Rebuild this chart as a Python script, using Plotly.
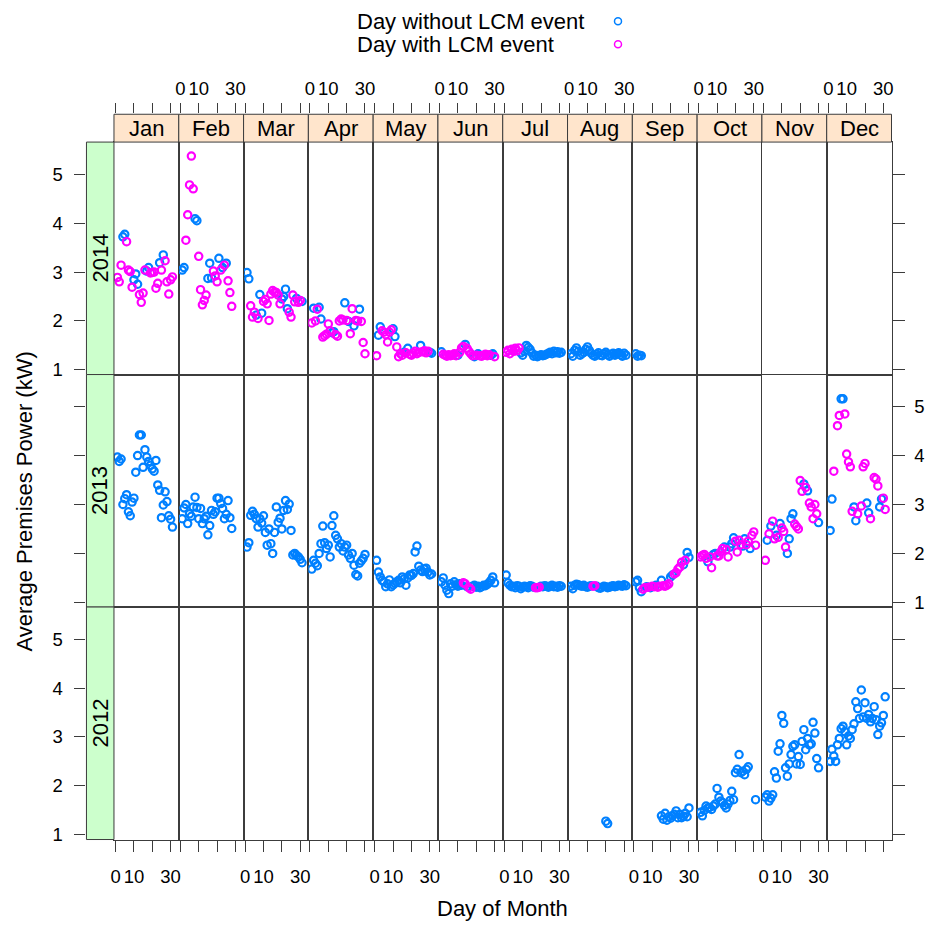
import plotly.graph_objects as go

# ---------------------------------------------------------------- data
MONTHS = ["Jan", "Feb", "Mar", "Apr", "May", "Jun",
          "Jul", "Aug", "Sep", "Oct", "Nov", "Dec"]
YEARS = [2014, 2013, 2012]          # panel rows, top to bottom
DAY_TICKS = [0, 10, 20, 30]
DAY_TICK_TEXT = ["0", "10", "", "30"]
KW_TICKS = [1, 2, 3, 4, 5]

# Daily average premises power (kW); list i starts at first_day[i], None = no reading
kw_2014 = [
    [2.89, 2.80, 3.14, 3.72, 3.77, 3.62, 3.04, 3.01, 2.69, 2.84, 2.96, 2.75, 2.54, 2.38, 2.57, 3.04,
     3.02, 3.09, 2.98, 2.99, 3.00, 2.67, 2.77, 3.19, 3.04, 3.35, 3.23, 2.80, 2.55, 2.84, 2.90],
    [3.04, 3.09, 3.65, 4.17, 4.78, 5.37, 4.70, 4.09, 4.05, 3.32, 2.64, 2.33, 2.42, 2.53, 2.87, 3.18,
     2.88, 3.02, 2.92, 2.80, 3.28, 3.04, 3.09, 3.14, 3.18, 2.82, 2.58, 2.30],
    [2.99, 2.86, 2.31, 2.08, 2.18, 2.12, 2.05, 2.54, 2.16, 2.40, 2.44, 2.35, 2.01, 2.55, 2.62, 2.59,
     2.58, 2.53, 2.35, 2.45, 2.50, 2.65, 2.25, 2.18, 2.08, 2.53, 2.39, 2.46, 2.38, 2.42, 2.40],
    [1.96, 2.26, 2.00, 2.24, 2.28, 2.04, 1.67, 1.70, 1.73, 1.94, 1.80, 1.76, 1.78, 1.72, 1.69, 2.00,
     2.04, 2.02, 2.37, 2.01, 1.99, 1.74, 2.25, 1.90, 2.01, 2.00, 2.24, 1.99, 1.56, 1.33],
    [1.29, 1.71, 1.88, 1.80, 1.77, 1.72, 1.57, 1.77, 1.82, 1.84, 1.68, 1.47, 1.27, 1.33, 1.30, 1.36,
     1.35, 1.44, 1.32, 1.30, 1.34, 1.38, 1.33, 1.36, 1.50, 1.37, 1.39, 1.35, 1.38, 1.36, 1.34],
    [1.37, 1.32, 1.30, 1.28, 1.31, 1.29, 1.30, 1.33, 1.29, 1.30, 1.36, 1.45, 1.48, 1.52, 1.44, 1.38,
     1.33, 1.29, 1.27, 1.30, 1.33, 1.29, 1.28, 1.30, 1.32, 1.29, 1.31, 1.30, 1.33, 1.27],
    [1.36, 1.40, 1.33, 1.42, 1.38, 1.44, 1.39, 1.45, 1.35, 1.30, 1.38, 1.50, 1.46, 1.42, 1.35, 1.28,
     1.30, 1.27, 1.29, 1.31, 1.29, 1.30, 1.32, 1.34, 1.36, 1.33, 1.38, 1.35, 1.37, 1.34, 1.36],
    [1.33, 1.28, 1.40, 1.45, 1.38, 1.30, 1.33, 1.36, 1.42, 1.47, 1.40, 1.34, 1.30, 1.28, 1.32, 1.35,
     1.30, 1.29, 1.33, 1.36, 1.31, 1.28, 1.32, 1.34, 1.30, 1.33, 1.35, 1.31, 1.28, 1.34, 1.30],
    [1.33, 1.28, 1.30, 1.29],
    None, None, None,
]
first_day_2014 = [1, 1, 1, 1, 1, 1, 1, 1, 1, None, None, None]
lcm_2014 = [
    [1, 2, 3, 6, 7, 8, 9, 13, 14, 15, 16, 19, 20, 21, 22, 23, 25, 27, 28, 29, 30, 31],
    [3, 4, 5, 6, 7, 10, 11, 12, 13, 14, 18, 19, 20, 22, 24, 26, 27, 28],
    [3, 4, 5, 7, 10, 11, 12, 13, 14, 15, 16, 17, 18, 19, 24, 25, 26, 27, 29, 30],
    [1, 3, 4, 7, 8, 9, 10, 11, 14, 15, 16, 17, 18, 20, 22, 23, 25, 26, 28, 29, 30],
    [1, 4, 5, 6, 7, 8, 9, 12, 13, 14, 15, 17, 19, 20, 21, 22, 23, 24, 26, 27, 28, 29],
    [2, 3, 4, 5, 6, 7, 8, 9, 11, 12, 13, 15, 16, 17, 18, 20, 22, 23, 24, 25, 26, 27, 30],
    [1, 2, 3, 4, 5, 6, 7, 8],
    [], [], [], [], [],
]

kw_2013 = [
    [3.97, 3.88, 3.93, 3.00, 3.12, 3.20, 2.85, 2.77, 3.05, 3.13, 3.66, 4.00, 4.42, 4.42, 3.76, 4.12,
     3.97, 3.88, 3.80, 3.73, 3.68, 3.90, 3.40, 3.29, 2.73, 2.99, 3.26, 3.06, 2.77, 2.70, 2.54],
    [2.71, 2.93, 3.00, 2.61, 2.81, 2.76, 2.95, 3.15, 2.94, 2.71, 2.92, 2.61, 2.71, 2.76, 2.38, 2.57,
     2.88, 2.80, 2.85, 3.13, 3.13, 3.02, 2.92, 2.71, 2.80, 3.08, 2.73, 2.51],
    [2.13, 2.22, 2.78, 2.86, 2.80, 2.71, 2.54, 2.71, 2.62, 2.77, 2.43, 2.17, 2.50, 2.20, 2.00, 2.43,
     2.95, 2.64, 2.72, 2.50, 2.88, 3.08, 2.90, 3.01, 2.47, 1.97, 2.00, 1.96, 1.93, 1.88, 1.81],
    [1.68, 1.86, 1.80, 1.75, 2.00, 2.20, 2.56, 2.22, 2.10, 2.17, 1.93, 2.57, 2.77, 2.37, 2.30, 2.13,
     2.20, 2.05, 2.13, 2.17, 1.97, 1.90, 2.00, 1.76, 1.57, 1.54, 1.80, 1.85, 1.90, 1.98],
    [1.86, 1.62, 1.52, 1.45, 1.42, 1.32, 1.38, 1.46, 1.32, 1.36, 1.39, 1.42, 1.45, 1.40, 1.52, 1.48,
     1.35, 1.50, 1.56, 1.55, 1.59, 2.03, 2.15, 1.74, 1.66, 1.63, 1.68, 1.70, 1.62, 1.56, 1.58],
    [1.42, 1.50, 1.35, 1.25, 1.18, 1.38, 1.33, 1.42, 1.36, 1.33, 1.38, 1.35, 1.40, 1.38, 1.32, 1.30,
     1.27, 1.33, 1.35, 1.31, 1.33, 1.30, 1.32, 1.35, 1.34, 1.37, 1.40, 1.45, 1.52, 1.40],
    [1.56, 1.40, 1.35, 1.32, 1.33, 1.30, 1.34, 1.33, 1.28, 1.31, 1.33, 1.32, 1.30, 1.34, 1.33, 1.31,
     1.30, 1.30, 1.31, 1.33, 1.32, 1.34, 1.33, 1.31, 1.33, 1.35, 1.32, 1.33, 1.31, 1.34, 1.33],
    [1.33, 1.28, 1.35, 1.37, 1.36, 1.34, 1.33, 1.35, 1.32, 1.31, 1.33, 1.34, 1.33, 1.34, 1.33, 1.30,
     1.29, 1.31, 1.33, 1.32, 1.30, 1.31, 1.33, 1.34, 1.32, 1.33, 1.35, 1.34, 1.33, 1.36, 1.34],
    [1.42, 1.45, 1.30, 1.22, 1.27, 1.30, 1.32, 1.31, 1.30, 1.33, 1.32, 1.35, 1.31, 1.33, 1.45, 1.34,
     1.33, 1.35, 1.38, 1.52, 1.56, 1.58, 1.61, 1.68, 1.72, 1.82, 1.77, 1.86, 2.02, 1.92],
    [1.93, 1.96, 1.98, 1.90, 1.83, 1.93, 1.71, 1.98, 2.00, 1.95, 1.95, 2.03, 2.10, 2.13, 2.08, 1.93,
     2.13, 2.20, 2.32, 2.25, 2.03, 2.27, 2.18, 2.15, 2.30, 2.18, 2.25, 2.10, 2.37, 2.44, 2.17],
    [1.86, 2.27, 2.40, 2.56, 2.66, 2.30, 2.37, 2.33, 2.61, 2.52, 2.45, 2.13, 2.00, 2.30, 2.71, 2.81,
     2.60, 2.55, 2.50, 3.49, 3.27, 3.42, 3.35, 3.28, 3.03, 2.95, 2.71, 3.00, 2.81, 2.63],
    [2.47, 3.11, 3.68, None, 4.61, 4.82, 5.16, 5.16, 4.85, 4.03, 3.87, 3.77, 2.86, 2.95, 2.67, 2.81,
     None, 2.97, 3.77, 3.84, 3.03, 2.83, 2.71, None, 3.55, 3.52, 3.38, 2.95, 3.11, 3.13, 2.90],
]
first_day_2013 = [1] * 12
lcm_2013 = [
    [], [], [], [], [],
    [13, 14, 16, 17],
    [17, 18, 19],
    [13, 14],
    [5, 6, 8, 10, 11, 13, 14, 16, 17, 18, 19, 22, 23, 24, 25, 26, 28],
    [1, 2, 3, 4, 6, 7, 10, 11, 12, 13, 15, 16, 20, 21, 22, 23, 26, 27, 29, 30, 31],
    [1, 3, 5, 6, 8, 10, 11, 12, 17, 18, 19, 20, 21, 23, 25, 26, 27, 28, 29],
    [3, 5, 6, 9, 10, 11, 12, 13, 16, 18, 19, 20, 23, 25, 26, 27, 30, 31],
]

kw_2012 = [
    None, None, None, None, None, None, None,
    [1.28, 1.23],
    [1.39, 1.32, 1.44, 1.30, 1.37, 1.34, 1.39, 1.42, 1.49, 1.35, 1.42, 1.35, 1.38, 1.44, 1.37, 1.55],
    [1.46, 1.39, 1.50, 1.59, 1.55, 1.56, 1.52, 1.59, 1.63, 1.95, 1.77, 1.69, 1.66, 1.60, 1.55, 1.63,
     1.70, 1.89, 1.72, 2.27, 2.34, 2.64, 2.27, 2.30, 2.23, 2.34, 2.39, None, None, None, 1.72],
    [1.77, 1.82, 1.69, 1.75, 1.82, 2.29, 2.16, 2.71, 2.86, 3.44, 3.28, 2.37, 2.20, 2.45, 2.64, 2.81,
     2.84, 2.45, 2.60, 2.44, 2.91, 3.15, 2.74, 2.97, 2.84, 2.86, 3.30, 3.08, 2.56, 2.37],
    [2.50, 2.75, 2.61, 2.50, 2.84, 2.97, 3.17, 3.22, 3.11, 2.84, 3.02, 2.97, 3.15, 3.27, 3.72, 3.58,
     3.38, 3.96, 3.41, 3.70, 3.38, 3.46, 3.31, 3.38, 3.62, 3.35, 3.05, 3.22, 3.29, 3.44, 3.82],
]
first_day_2012 = [None] * 7 + [20, 15, 1, 1, 1]
lcm_2012 = [[] for _ in range(12)]

KW = {2014: kw_2014, 2013: kw_2013, 2012: kw_2012}
FIRST = {2014: first_day_2014, 2013: first_day_2013, 2012: first_day_2012}
LCM = {2014: lcm_2014, 2013: lcm_2013, 2012: lcm_2012}

GROUPS = ["Day without LCM event", "Day with LCM event"]
COLORS = ["#0080ff", "#ff00ff"]

# ---------------------------------------------------------------- layout geometry (pixels)
W, H = 925, 926
PANEL_L, PANEL_R = 110.7, 893.3
COL_W = (PANEL_R - PANEL_L) / 12
ROW_TOP, ROW_H = 143.0, 234.0
STRIP_TOP = 115.0
YSTRIP_L = 83.0
X_RANGE = [-0.87, 34.45]
Y_RANGE = [0.905, 5.655]
LINE = "#3c3c3c"
FONT = "Liberation Sans, Arial, sans-serif"
TEXT_SIZE = 22
MARKER_SIZE = 7.3
MARKER_LW = 2.2


def fx(px):
    return px / W


def fy(py):
    return 1 - py / H


def ax_name(letter, k):
    return f"{letter}axis" if k == 1 else f"{letter}axis{k}"


def ax_ref(letter, k):
    return letter if k == 1 else f"{letter}{k}"


def empty_trace(xref, yref):
    return go.Scatter(x=[], y=[], xaxis=xref, yaxis=yref, showlegend=False,
                      hoverinfo="skip", mode="markers")


fig = go.Figure()
layout = {}
shapes = []
annotations = []

tick_font = dict(family=FONT, size=18.5, color="#000000")
text_font = dict(family=FONT, size=TEXT_SIZE, color="#000000")

# thin hidden helper axes that carry the outer tick rows
TOP_HOLDER, LEFT_HOLDER = 61, 62
layout[ax_name("y", TOP_HOLDER)] = dict(domain=[fy(STRIP_TOP + 1), fy(STRIP_TOP)],
                                        range=[0, 1], visible=False,
                                        anchor=ax_ref("x", 37), fixedrange=True)
layout[ax_name("x", LEFT_HOLDER)] = dict(domain=[fx(YSTRIP_L), fx(YSTRIP_L + 1)],
                                         range=[0, 1], visible=False,
                                         anchor=ax_ref("y", 49), fixedrange=True)

for r, year in enumerate(YEARS):
    py0 = ROW_TOP + r * ROW_H
    py1 = py0 + ROW_H
    for m in range(12):
        k = r * 12 + m + 1
        px0 = PANEL_L + m * COL_W
        px1 = px0 + COL_W
        xa = dict(domain=[fx(px0), fx(px1)], range=X_RANGE, anchor=ax_ref("y", k),
                  showline=True, mirror=True, linecolor=LINE, linewidth=1,
                  showgrid=False, zeroline=False, ticks="", showticklabels=False,
                  fixedrange=True)
        if r == len(YEARS) - 1:
            xa.update(ticks="outside", ticklen=11, tickwidth=1, tickcolor=LINE,
                      tickvals=DAY_TICKS, ticktext=DAY_TICK_TEXT,
                      showticklabels=(m % 2 == 0), tickfont=tick_font,
                      ticklabelstandoff=9)
        ya = dict(domain=[fy(py1), fy(py0)], range=Y_RANGE, anchor=ax_ref("x", k),
                  showline=True, mirror=True, linecolor=LINE, linewidth=1,
                  showgrid=False, zeroline=False, ticks="", showticklabels=False,
                  fixedrange=True)
        if m == 11:
            ya.update(side="right", ticks="outside", ticklen=12, tickwidth=1,
                      tickcolor=LINE, tickvals=KW_TICKS, showticklabels=(r == 1),
                      tickfont=tick_font, ticklabelstandoff=6)
        layout[ax_name("x", k)] = xa
        layout[ax_name("y", k)] = ya
        fig.add_trace(empty_trace(ax_ref("x", k), ax_ref("y", k)))

        vals = KW[year][m]
        if vals is None:
            continue
        start = FIRST[year][m]
        events = set(LCM[year][m])
        for g in range(2):
            xs, ys = [], []
            for i, v in enumerate(vals):
                day = start + i
                if v is None:
                    continue
                if (day in events) == (g == 1):
                    xs.append(day)
                    ys.append(v)
            if xs:
                fig.add_trace(go.Scatter(
                    x=xs, y=ys, mode="markers", name=GROUPS[g], showlegend=False,
                    xaxis=ax_ref("x", k), yaxis=ax_ref("y", k),
                    marker=dict(symbol="circle-open", size=MARKER_SIZE, color=COLORS[g],
                                line=dict(width=MARKER_LW, color=COLORS[g]))))

# top day-of-month tick rows, above the month strips
for m in range(12):
    k = 37 + m
    px0 = PANEL_L + m * COL_W
    layout[ax_name("x", k)] = dict(
        anchor=ax_ref("y", TOP_HOLDER), side="top",
        domain=[fx(px0), fx(px0 + COL_W)], range=X_RANGE,
        ticks="outside", ticklen=10, tickwidth=1, tickcolor=LINE,
        tickvals=DAY_TICKS, ticktext=DAY_TICK_TEXT, showticklabels=(m % 2 == 1),
        tickfont=tick_font, ticklabelstandoff=1, showline=False,
        showgrid=False, zeroline=False, fixedrange=True)
    fig.add_trace(empty_trace(ax_ref("x", k), ax_ref("y", TOP_HOLDER)))

# left kW tick rows, outside the year strips
for r in range(len(YEARS)):
    k = 49 + r
    py0 = ROW_TOP + r * ROW_H
    layout[ax_name("y", k)] = dict(
        anchor=ax_ref("x", LEFT_HOLDER), side="left",
        domain=[fy(py0 + ROW_H), fy(py0)], range=Y_RANGE,
        ticks="outside", ticklen=11, tickwidth=1, tickcolor=LINE,
        tickvals=KW_TICKS, showticklabels=(r != 1), tickfont=tick_font,
        ticklabelstandoff=8, showline=False, showgrid=False, zeroline=False,
        fixedrange=True)
    fig.add_trace(empty_trace(ax_ref("x", LEFT_HOLDER), ax_ref("y", k)))

# month strips
for m, name in enumerate(MONTHS):
    px0 = PANEL_L + m * COL_W
    shapes.append(dict(type="rect", xref="paper", yref="paper",
                       x0=fx(px0), x1=fx(px0 + COL_W), y0=fy(ROW_TOP), y1=fy(STRIP_TOP),
                       fillcolor="#ffe5cc", line=dict(color=LINE, width=1)))
    annotations.append(dict(text=name, xref="paper", yref="paper",
                            x=fx(px0 + COL_W / 2), y=fy((ROW_TOP + STRIP_TOP) / 2),
                            showarrow=False, xanchor="center", yanchor="middle",
                            font=text_font))

# year strips
for r, year in enumerate(YEARS):
    py0 = ROW_TOP + r * ROW_H
    shapes.append(dict(type="rect", xref="paper", yref="paper",
                       x0=fx(YSTRIP_L), x1=fx(PANEL_L), y0=fy(py0 + ROW_H), y1=fy(py0),
                       fillcolor="#ccffcc", line=dict(color=LINE, width=1)))
    annotations.append(dict(text=str(year), xref="paper", yref="paper",
                            x=fx((YSTRIP_L + PANEL_L) / 2), y=fy(py0 + ROW_H / 2),
                            showarrow=False, textangle=-90, xanchor="center",
                            yanchor="middle", font=text_font))

# axis titles
annotations.append(dict(text="Average Premises Power (kW)", xref="paper", yref="paper",
                        x=fx(21), y=fy(505), showarrow=False,
                        textangle=-90, xanchor="center", yanchor="middle",
                        font=text_font))
annotations.append(dict(text="Day of Month", xref="paper", yref="paper",
                        x=fx((PANEL_L + PANEL_R) / 2), y=fy(914), showarrow=False,
                        xanchor="center", yanchor="middle", font=text_font))

# key: text on the left, symbol on the right
KEY_ROWS = [21.5, 44.5]
layout["xaxis60"] = dict(domain=[fx(608), fx(628)], range=[-1, 1], visible=False,
                         anchor="y60", fixedrange=True)
layout["yaxis60"] = dict(domain=[fy(56), fy(10)], type="category",
                         categoryarray=GROUPS[::-1], range=[-0.5, 1.5],
                         visible=False, anchor="x60", fixedrange=True)
for g in range(2):
    fig.add_trace(go.Scatter(
        x=[0], y=[GROUPS[g]], mode="markers", showlegend=False, xaxis="x60", yaxis="y60",
        marker=dict(symbol="circle-open", size=7, color=COLORS[g],
                    line=dict(width=1.5, color=COLORS[g]))))
    annotations.append(dict(text=GROUPS[g], xref="paper", yref="paper",
                            x=fx(353), y=fy(KEY_ROWS[g]), showarrow=False,
                            xanchor="left", yanchor="middle", font=text_font))

fig.update_layout(
    width=W, height=H, margin=dict(l=0, r=0, t=0, b=0),
    paper_bgcolor="white", plot_bgcolor="white",
    showlegend=False, shapes=shapes, annotations=annotations,
    font=dict(family=FONT, color="#000000"),
    **layout,
)

fig.write_html("out.html")
